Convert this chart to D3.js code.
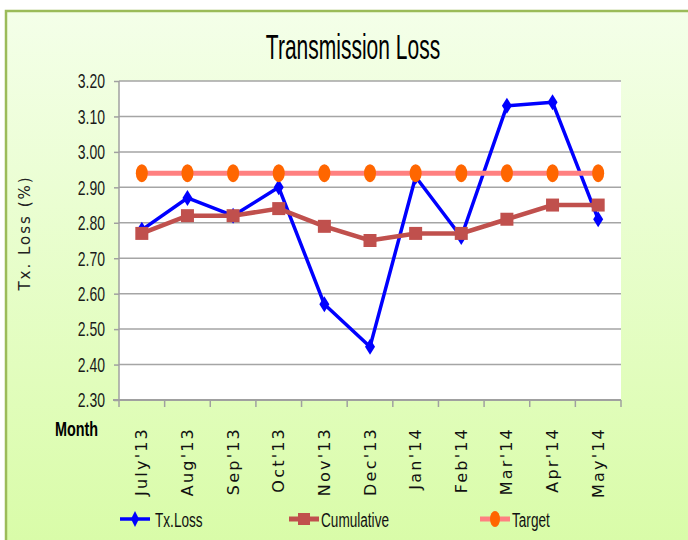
<!DOCTYPE html>
<html>
<head>
<meta charset="utf-8">
<script src="https://cdn.jsdelivr.net/npm/d3@7"></script>
<style>
  body { margin: 0; background: #fff; }
</style>
</head>
<body>
<div id="chart"></div>
<script>
var months = ["July'13", "Aug'13", "Sep'13", "Oct'13", "Nov'13", "Dec'13", "Jan'14", "Feb'14", "Mar'14", "Apr'14", "May'14"];
var txLoss = [2.78, 2.87, 2.82, 2.90, 2.57, 2.45, 2.93, 2.76, 3.13, 3.14, 2.81];
var cumulative = [2.77, 2.82, 2.82, 2.84, 2.79, 2.75, 2.77, 2.77, 2.81, 2.85, 2.85];
var target = [2.94, 2.94, 2.94, 2.94, 2.94, 2.94, 2.94, 2.94, 2.94, 2.94, 2.94];
var yTicks = [2.30, 2.40, 2.50, 2.60, 2.70, 2.80, 2.90, 3.00, 3.10, 3.20];

var W = 688, H = 540;
var plot = {left: 119, right: 621, top: 81, bottom: 400};
var narrow = "'Liberation Sans', Arial, sans-serif";

var svg = d3.select("#chart").append("svg")
    .attr("width", W)
    .attr("height", H);

// background gradient
var defs = svg.append("defs");
var grad = defs.append("linearGradient")
    .attr("id", "bg").attr("x1", 0).attr("y1", 0).attr("x2", 0).attr("y2", 1);
grad.append("stop").attr("offset", "0%").attr("stop-color", "#f4ffe9");
grad.append("stop").attr("offset", "100%").attr("stop-color", "#d8fca6");

svg.append("rect")
    .attr("x", 0).attr("y", 0).attr("width", W).attr("height", H)
    .attr("fill", "#fff");
svg.append("rect")
    .attr("x", 6).attr("y", 11).attr("width", W + 10).attr("height", H + 10)
    .attr("fill", "url(#bg)")
    .attr("stroke", "#9bbb59")
    .attr("stroke-width", 2.5);

var x = d3.scaleBand()
    .domain(months)
    .range([plot.left, plot.right]);

var y = d3.scaleLinear()
    .domain([2.30, 3.20])
    .range([plot.bottom, plot.top]);

function cx(d, i) { return x(months[i]) + x.bandwidth() / 2; }

// plot area
svg.append("rect")
    .attr("x", plot.left).attr("y", plot.top)
    .attr("width", plot.right - plot.left)
    .attr("height", plot.bottom - plot.top)
    .attr("fill", "#fff");

// gridlines
svg.append("g")
    .selectAll("line")
    .data(yTicks.slice(1))
    .enter()
    .append("line")
    .attr("x1", plot.left).attr("x2", plot.right)
    .attr("y1", function (d) { return y(d); })
    .attr("y2", function (d) { return y(d); })
    .style("stroke", "#a5a5a5")
    .style("stroke-width", 1.5);

// Y axis
var yAxis = svg.append("g")
    .attr("transform", "translate(" + plot.left + ",0)")
    .call(d3.axisLeft(y).tickValues(yTicks).tickFormat(d3.format(".2f")).tickSize(5).tickPadding(0));
yAxis.selectAll("path, line").style("stroke", "#a0a0a0").style("stroke-width", 1.5);
yAxis.select(".domain").attr("d", "M0," + plot.top + "V" + plot.bottom);
// condensed labels
yAxis.selectAll("text")
    .attr("x", null)
    .attr("dy", "0.34em")
    .attr("transform", "translate(-14,0) scale(0.7,1)")
    .style("font-family", narrow)
    .style("font-size", "20px")
    .style("fill", "#1a1a1a");

// X axis: ticks on category boundaries
var xAxis = svg.append("g")
    .attr("transform", "translate(0," + plot.bottom + ")");
xAxis.append("line")
    .attr("x1", plot.left - 6).attr("x2", plot.right)
    .attr("y1", 0).attr("y2", 0)
    .style("stroke", "#a0a0a0").style("stroke-width", 2);
xAxis.selectAll(".tk")
    .data(months.concat(["end"]))
    .enter()
    .append("line")
    .attr("class", "tk")
    .attr("x1", function (d, i) { return i < months.length ? x(d) : plot.right; })
    .attr("x2", function (d, i) { return i < months.length ? x(d) : plot.right; })
    .attr("y1", 0).attr("y2", 7)
    .style("stroke", "#a0a0a0").style("stroke-width", 1.5);
xAxis.selectAll(".lbl")
    .data(months)
    .enter()
    .append("text")
    .attr("class", "lbl")
    .attr("transform", function (d, i) {
        return "translate(" + (cx(d, i) + 5.5) + ",27) rotate(-90)";
    })
    .attr("text-anchor", "end")
    .style("font-family", "'DejaVu Sans', sans-serif")
    .style("font-size", "16px")
    .style("letter-spacing", "2.2px")
    .style("fill", "#111")
    .text(function (d) { return d; });

// line generator
var line = d3.line()
    .x(function (d, i) { return cx(d, i); })
    .y(function (d) { return y(d); });

// Tx.Loss
svg.append("path")
    .datum(txLoss)
    .attr("d", line)
    .attr("fill", "none")
    .style("stroke", "#0000ff")
    .style("stroke-width", 3.5)
    .style("stroke-linejoin", "round");
svg.append("g")
    .selectAll("path")
    .data(txLoss)
    .enter()
    .append("path")
    .attr("d", "M0,-8L5,0L0,8L-5,0Z")
    .attr("transform", function (d, i) { return "translate(" + cx(d, i) + "," + y(d) + ")"; })
    .style("fill", "#0000ff");

// Cumulative
svg.append("path")
    .datum(cumulative)
    .attr("d", line)
    .attr("fill", "none")
    .style("stroke", "#c0504d")
    .style("stroke-width", 4.5);
svg.append("g")
    .selectAll("rect")
    .data(cumulative)
    .enter()
    .append("rect")
    .attr("x", function (d, i) { return cx(d, i) - 6.5; })
    .attr("y", function (d) { return y(d) - 6.5; })
    .attr("width", 13).attr("height", 13)
    .style("fill", "#c0504d");

// Target
svg.append("path")
    .datum(target)
    .attr("d", line)
    .attr("fill", "none")
    .style("stroke", "#ff8080")
    .style("stroke-width", 5);
svg.append("g")
    .selectAll("ellipse")
    .data(target)
    .enter()
    .append("ellipse")
    .attr("cx", function (d, i) { return cx(d, i); })
    .attr("cy", function (d) { return y(d); })
    .attr("rx", 6).attr("ry", 9)
    .style("fill", "#ff6600");

// title (condensed)
svg.append("text")
    .attr("transform", "translate(353,59) scale(0.6,1)")
    .attr("text-anchor", "middle")
    .style("font-family", narrow)
    .style("font-size", "35px")
    .style("fill", "#000")
    .text("Transmission  Loss");

// y axis title
svg.append("text")
    .attr("transform", "translate(30,233) rotate(-90)")
    .attr("text-anchor", "middle")
    .style("font-family", "'DejaVu Sans', sans-serif")
    .style("font-size", "15px")
    .style("letter-spacing", "2px")
    .style("fill", "#222")
    .text("Tx. Loss (%)");

svg.append("text")
    .attr("transform", "translate(55,436) scale(0.72,1)")
    .style("font-family", narrow)
    .style("font-size", "20px")
    .style("font-weight", "bold")
    .style("fill", "#000")
    .text("Month");

// legend
var legendItems = [
    {name: "Tx.Loss", x: 120, color: "#0000ff", marker: "diamond"},
    {name: "Cumulative", x: 289, color: "#c0504d", marker: "square"},
    {name: "Target", x: 480, color: "#ff8080", marker: "ellipse"}
];
var lg = svg.append("g").selectAll("g")
    .data(legendItems)
    .enter()
    .append("g")
    .attr("transform", function (d) { return "translate(" + d.x + ",519)"; });
lg.append("line")
    .attr("x1", 0).attr("x2", 30)
    .attr("y1", 0).attr("y2", 0)
    .style("stroke", function (d) { return d.color; })
    .style("stroke-width", function (d) { return d.marker == "diamond" ? 3.5 : 5; });
lg.each(function (d) {
    var g = d3.select(this);
    if (d.marker == "diamond") {
        g.append("path").attr("d", "M15,-8L19,0L15,8L11,0Z").style("fill", "#0000ff");
    } else if (d.marker == "square") {
        g.append("rect").attr("x", 9).attr("y", -6).attr("width", 12).attr("height", 12).style("fill", "#c0504d");
    } else {
        g.append("ellipse").attr("cx", 15).attr("cy", 0).attr("rx", 5).attr("ry", 8).style("fill", "#ff6600");
    }
});
lg.append("text")
    .attr("transform", function (d) {
        return "translate(" + (d.marker == "diamond" ? 35 : 32) + ",8) scale(0.68,1)";
    })
    .style("font-family", narrow)
    .style("font-size", "20px")
    .style("fill", "#111")
    .text(function (d) { return d.name; });
</script>
</body>
</html>
